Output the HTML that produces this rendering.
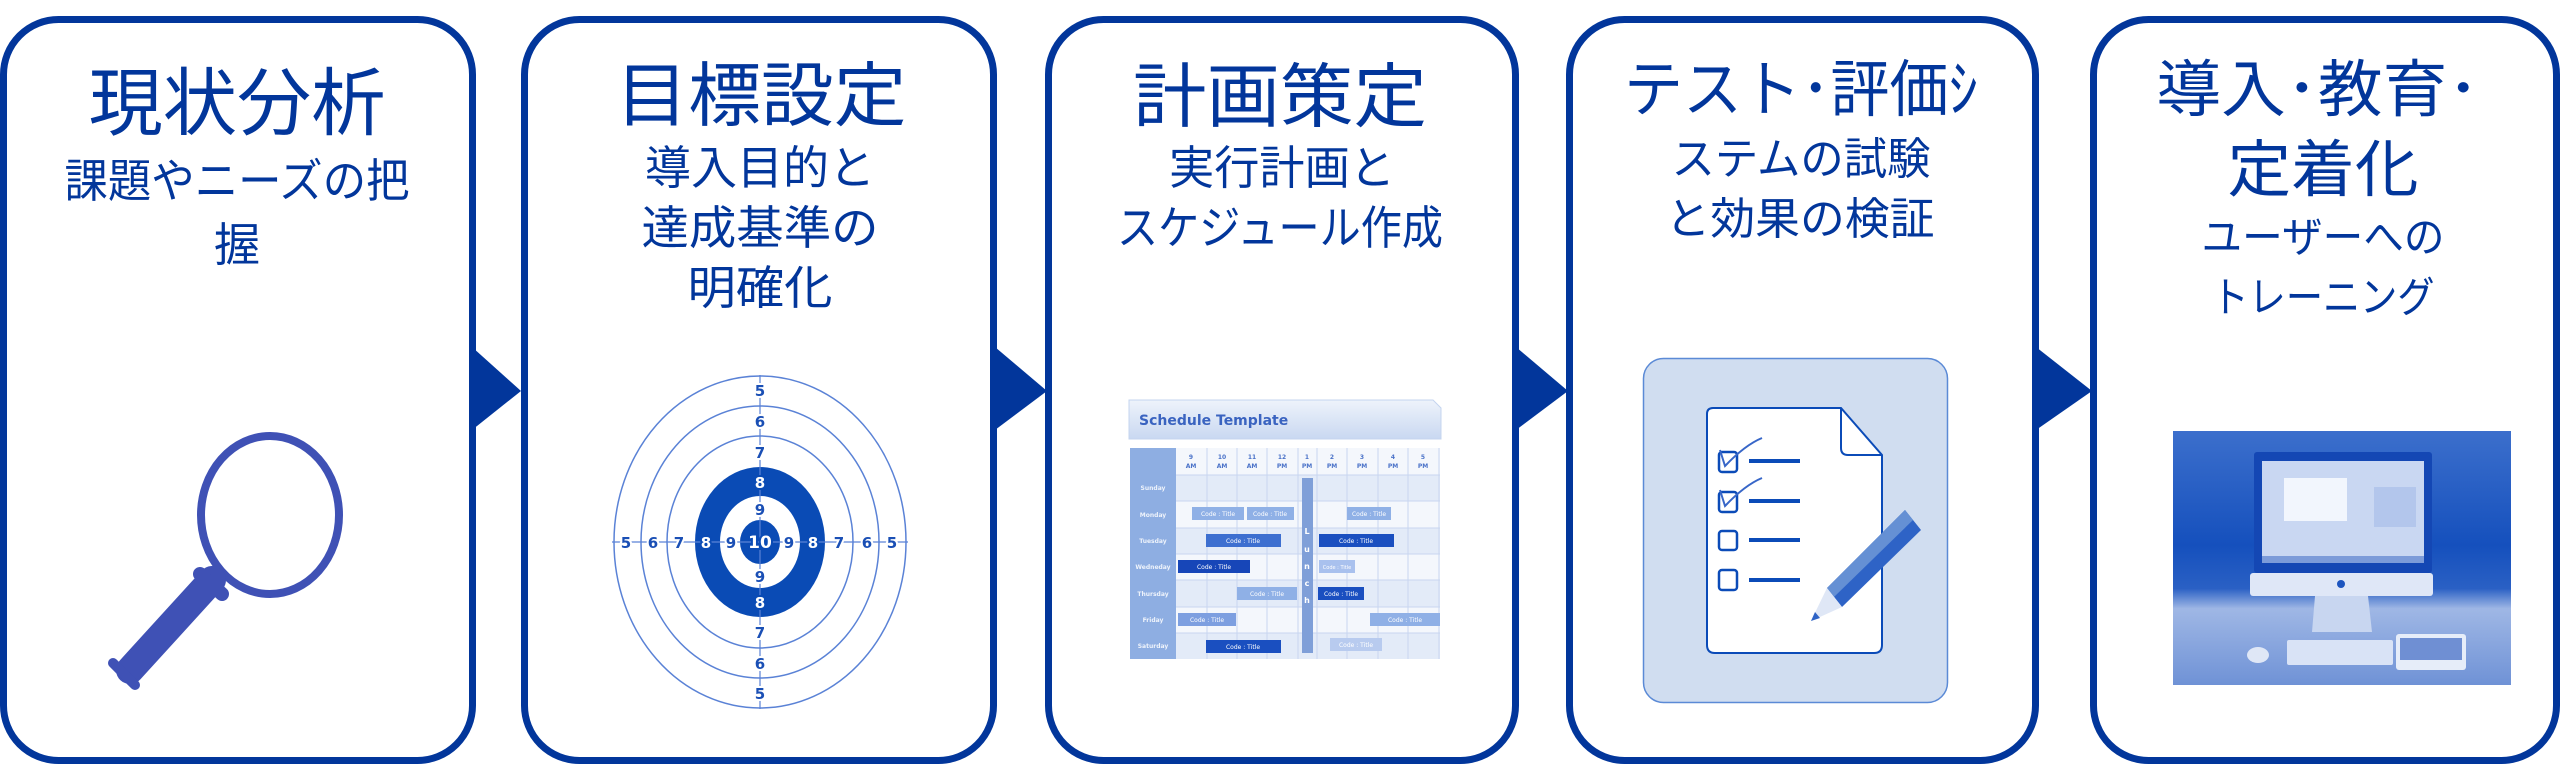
<!DOCTYPE html>
<html><head><meta charset="utf-8"><style>
html,body{margin:0;padding:0;background:#fff;}
svg{display:block;}
</style></head><body>
<svg width="2560" height="764" viewBox="0 0 2560 764" xmlns="http://www.w3.org/2000/svg">
<defs>
<linearGradient id="hdr" x1="0" y1="0" x2="0" y2="1"><stop offset="0" stop-color="#eef3fb"/><stop offset="1" stop-color="#c9d8f1"/></linearGradient>
<linearGradient id="bg5" x1="0" y1="0" x2="0" y2="1"><stop offset="0" stop-color="#3c6fcc"/><stop offset="0.45" stop-color="#1550bd"/><stop offset="0.62" stop-color="#2a60c4"/><stop offset="0.7" stop-color="#9fb7e5"/><stop offset="1" stop-color="#6f92d6"/></linearGradient>
</defs>
<g fill="none" stroke="#02369b" stroke-width="7">
<rect x="3.5" y="19.5" width="469" height="741" rx="55"/>
<rect x="524.5" y="19.5" width="469" height="741" rx="55"/>
<rect x="1048.5" y="19.5" width="467" height="741" rx="55"/>
<rect x="1569.5" y="19.5" width="466" height="741" rx="55"/>
<rect x="2093.5" y="19.5" width="463" height="741" rx="55"/>
</g>
<g fill="#02369b">
<polygon points="472,347 521,391 521,391 472,430"/>
<polygon points="995,347 1047,391 995,430"/>
<polygon points="1516,347 1568,391 1516,430"/>
<polygon points="2036,347 2092,391 2036,430"/>
</g>
<g fill="#02369b" font-family="'Liberation Sans','Noto Sans CJK JP',sans-serif" text-anchor="middle">
<text x="237" y="129" font-size="74" textLength="297" lengthAdjust="spacingAndGlyphs">現状分析</text>
<text x="237" y="197" font-size="46" textLength="345" lengthAdjust="spacingAndGlyphs">課題やニーズの把</text>
<text x="237" y="261" font-size="46">握</text>
<text x="761" y="120" font-size="70" textLength="291" lengthAdjust="spacingAndGlyphs">目標設定</text>
<text x="760" y="184" font-size="46" textLength="230" lengthAdjust="spacingAndGlyphs">導入目的と</text>
<text x="760" y="244" font-size="46" textLength="237" lengthAdjust="spacingAndGlyphs">達成基準の</text>
<text x="760" y="304" font-size="46" textLength="145" lengthAdjust="spacingAndGlyphs">明確化</text>
<text x="1280" y="121" font-size="70" textLength="294" lengthAdjust="spacingAndGlyphs">計画策定</text>
<text x="1282" y="184" font-size="46" textLength="226" lengthAdjust="spacingAndGlyphs">実行計画と</text>
<text x="1280" y="244" font-size="46" textLength="326" lengthAdjust="spacingAndGlyphs">スケジュール作成</text>
<text x="1801" y="111" font-size="62" textLength="354" lengthAdjust="spacingAndGlyphs">テスト･評価ｼ</text>
<text x="1801" y="174" font-size="44" textLength="259" lengthAdjust="spacingAndGlyphs">ステムの試験</text>
<text x="1800" y="234" font-size="44" textLength="269" lengthAdjust="spacingAndGlyphs">と効果の検証</text>
<text x="2318" y="111" font-size="62" textLength="323" lengthAdjust="spacingAndGlyphs">導入･教育･</text>
<text x="2323" y="191" font-size="62" textLength="191" lengthAdjust="spacingAndGlyphs">定着化</text>
<text x="2323" y="252" font-size="42" textLength="243" lengthAdjust="spacingAndGlyphs">ユーザーへの</text>
<text x="2323" y="312" font-size="42" textLength="223" lengthAdjust="spacingAndGlyphs">トレーニング</text>
</g>

<!-- magnifier -->
<g fill="#3f51b5">
<ellipse cx="270" cy="515" rx="69" ry="79" fill="none" stroke="#3f51b5" stroke-width="8"/>
<line x1="212" y1="580" x2="130" y2="670" stroke="#3f51b5" stroke-width="28" stroke-linecap="round"/>
<line x1="200" y1="574" x2="222" y2="594" stroke="#3f51b5" stroke-width="14" stroke-linecap="round"/>
<line x1="113" y1="663" x2="135" y2="685" stroke="#3f51b5" stroke-width="10" stroke-linecap="round"/>
</g>

<!-- target -->
<g fill="none" stroke="#5a82d6" stroke-width="1.5">
<ellipse cx="760" cy="542" rx="146" ry="166"/>
<ellipse cx="760" cy="542" rx="119" ry="136"/>
<ellipse cx="760" cy="542" rx="93" ry="106"/>
</g>
<ellipse cx="760" cy="542" rx="65" ry="75" fill="#0a4bb5"/>
<ellipse cx="760" cy="542" rx="40" ry="46" fill="#fff"/>
<ellipse cx="760" cy="542" rx="20" ry="22" fill="#0a4bb5"/>
<g stroke="#5a82d6" stroke-width="1.2"><line x1="612" y1="542" x2="908" y2="542"/><line x1="760" y1="375" x2="760" y2="709"/></g>
<g font-family="'DejaVu Sans','Liberation Sans',sans-serif" font-weight="bold" font-size="15" text-anchor="middle" style="paint-order:stroke" stroke-width="4">
<g fill="#1a4fb5" stroke="#fff">
<text x="626" y="548">5</text><text x="653" y="548">6</text><text x="679" y="548">7</text>
<text x="839" y="548">7</text><text x="867" y="548">6</text><text x="892" y="548">5</text>
<text x="731" y="548">9</text><text x="789" y="548">9</text>
<text x="760" y="396">5</text><text x="760" y="427">6</text><text x="760" y="458">7</text>
<text x="760" y="515">9</text><text x="760" y="582">9</text>
<text x="760" y="638">7</text><text x="760" y="669">6</text><text x="760" y="699">5</text>
</g>
<g fill="#fff" stroke="#0a4bb5">
<text x="706" y="548">8</text><text x="813" y="548">8</text>
<text x="760" y="488">8</text><text x="760" y="608">8</text>
<text x="760" y="548" font-size="17">10</text>
</g>
</g>

<!-- schedule -->
<path d="M1129,400 H1433 L1441,408 V439 H1129 Z" fill="url(#hdr)" stroke="#c4d4ef"/>
<text x="1139" y="425" font-family="'DejaVu Sans',sans-serif" font-weight="bold" font-size="14" fill="#3a63c0">Schedule Template</text>
<rect x="1130" y="448" width="310" height="211" fill="#f4f7fc"/>
<g fill="#e3ebf8"><rect x="1176" y="475" width="264" height="26"/><rect x="1176" y="528" width="264" height="26"/><rect x="1176" y="580" width="264" height="27"/><rect x="1176" y="633" width="264" height="26"/></g>
<rect x="1130" y="448" width="46" height="211" fill="#8eaee2"/>
<g stroke="#c8d6f0" stroke-width="1">
<line x1="1207" y1="448" x2="1207" y2="659"/><line x1="1237" y1="448" x2="1237" y2="659"/><line x1="1267" y1="448" x2="1267" y2="659"/><line x1="1298" y1="448" x2="1298" y2="659"/><line x1="1317" y1="448" x2="1317" y2="659"/><line x1="1347" y1="448" x2="1347" y2="659"/><line x1="1378" y1="448" x2="1378" y2="659"/><line x1="1408" y1="448" x2="1408" y2="659"/><line x1="1439" y1="448" x2="1439" y2="659"/>
<line x1="1176" y1="475" x2="1440" y2="475"/><line x1="1176" y1="501" x2="1440" y2="501"/><line x1="1176" y1="528" x2="1440" y2="528"/><line x1="1176" y1="554" x2="1440" y2="554"/><line x1="1176" y1="580" x2="1440" y2="580"/><line x1="1176" y1="607" x2="1440" y2="607"/><line x1="1176" y1="633" x2="1440" y2="633"/>
</g>
<g font-family="'DejaVu Sans',sans-serif" font-size="6" font-weight="bold" fill="#4a72c8" text-anchor="middle">
<text x="1191" y="459">9</text><text x="1191" y="468">AM</text>
<text x="1222" y="459">10</text><text x="1222" y="468">AM</text>
<text x="1252" y="459">11</text><text x="1252" y="468">AM</text>
<text x="1282" y="459">12</text><text x="1282" y="468">PM</text>
<text x="1307" y="459">1</text><text x="1307" y="468">PM</text>
<text x="1332" y="459">2</text><text x="1332" y="468">PM</text>
<text x="1362" y="459">3</text><text x="1362" y="468">PM</text>
<text x="1393" y="459">4</text><text x="1393" y="468">PM</text>
<text x="1423" y="459">5</text><text x="1423" y="468">PM</text>
</g>
<g font-family="'DejaVu Sans',sans-serif" font-size="6" font-weight="bold" fill="#eef3fb" text-anchor="middle">
<text x="1153" y="490">Sunday</text><text x="1153" y="517">Monday</text><text x="1153" y="543">Tuesday</text><text x="1153" y="569">Wedneday</text><text x="1153" y="596">Thursday</text><text x="1153" y="622">Friday</text><text x="1153" y="648">Saturday</text>
</g>
<rect x="1302" y="478" width="11" height="175" fill="#7f9fd8"/>
<g font-family="'DejaVu Sans',sans-serif" font-size="8" font-weight="bold" fill="#fff" text-anchor="middle">
<text x="1307" y="534">L</text><text x="1307" y="552">u</text><text x="1307" y="569">n</text><text x="1307" y="586">c</text><text x="1307" y="603">h</text>
</g>
<g font-family="'DejaVu Sans',sans-serif" font-size="6" fill="#fff" text-anchor="middle">
<rect x="1192" y="507" width="52" height="13" fill="#8fb0e6"/><text x="1218" y="516">Code : Title</text>
<rect x="1247" y="507" width="47" height="13" fill="#8fb0e6"/><text x="1270" y="516">Code : Title</text>
<rect x="1347" y="507" width="44" height="13" fill="#8fb0e6"/><text x="1369" y="516">Code : Title</text>
<rect x="1206" y="534" width="75" height="13" fill="#3d6fd0"/><text x="1243" y="543">Code : Title</text>
<rect x="1319" y="534" width="75" height="13" fill="#1a4fc0"/><text x="1356" y="543">Code : Title</text>
<rect x="1178" y="560" width="72" height="13" fill="#1746b8"/><text x="1214" y="569">Code : Title</text>
<rect x="1319" y="560" width="36" height="13" fill="#a9c1ee"/><text x="1337" y="569" font-size="5">Code : Title</text>
<rect x="1237" y="587" width="60" height="13" fill="#8fb0e6"/><text x="1267" y="596">Code : Title</text>
<rect x="1318" y="587" width="46" height="13" fill="#1a4fc0"/><text x="1341" y="596">Code : Title</text>
<rect x="1178" y="613" width="58" height="13" fill="#7d9fe0"/><text x="1207" y="622">Code : Title</text>
<rect x="1370" y="613" width="70" height="13" fill="#8fb0e6"/><text x="1405" y="622">Code : Title</text>
<rect x="1206" y="640" width="75" height="13" fill="#1a4fc0"/><text x="1243" y="649">Code : Title</text>
<rect x="1330" y="638" width="52" height="13" fill="#b8cbef"/><text x="1356" y="647">Code : Title</text>
</g>

<!-- checklist -->
<rect x="1643.5" y="358.5" width="304" height="344" rx="20" fill="#d0ddf0" stroke="#5b8ad6" stroke-width="1.5"/>
<path d="M1713,408 H1841 L1882,455 V645 Q1882,653 1874,653 H1715 Q1707,653 1707,645 V414 Q1707,408 1713,408 Z" fill="#fff" stroke="#0b4bb8" stroke-width="2"/>
<path d="M1841,408 V448 Q1841,455 1848,455 H1882" fill="none" stroke="#0b4bb8" stroke-width="2"/>
<g fill="none" stroke="#0b4bb8" stroke-width="2.5">
<rect x="1719" y="452" width="18" height="20" rx="3"/><rect x="1719" y="492" width="18" height="20" rx="3"/><rect x="1719" y="531" width="18" height="19" rx="3"/><rect x="1719" y="570" width="18" height="20" rx="3"/>
</g>
<g stroke="#0b4bb8" stroke-width="4"><line x1="1749" y1="461" x2="1800" y2="461"/><line x1="1749" y1="501" x2="1800" y2="501"/><line x1="1749" y1="540" x2="1800" y2="540"/><line x1="1749" y1="580" x2="1800" y2="580"/></g>
<g fill="none" stroke="#3766c8" stroke-width="2"><path d="M1720,450 L1725,466 Q1745,445 1762,438"/><path d="M1720,490 L1725,506 Q1745,485 1762,478"/></g>
<polygon points="1827,588 1905,510 1921,530 1842,607" fill="#2e63c6"/>
<polygon points="1827,588 1905,510 1913,520 1834,597" fill="#6590d4"/>
<polygon points="1827,588 1842,607 1811,621" fill="#dfe7f6"/>
<polygon points="1815,612 1820,618 1811,621" fill="#2e63c6"/>

<!-- computer photo -->
<rect x="2173" y="431" width="338" height="254" fill="url(#bg5)"/>
<rect x="2254" y="452" width="178" height="121" rx="3" fill="#1447b4"/>
<rect x="2262" y="461" width="162" height="102" fill="#c9d7f2"/>
<rect x="2284" y="478" width="63" height="43" fill="#f2f6fd"/>
<rect x="2374" y="487" width="42" height="40" fill="#b3c6ec"/>
<rect x="2262" y="556" width="162" height="7" fill="#7c9bd9"/>
<rect x="2250" y="573" width="183" height="23" rx="3" fill="#dfe7f7"/>
<circle cx="2341" cy="584" r="4" fill="#1d55bf"/>
<polygon points="2315,596 2368,596 2372,632 2312,632" fill="#c8d6f0"/>
<ellipse cx="2258" cy="655" rx="11" ry="8" fill="#dfe7f6"/>
<rect x="2287" y="640" width="106" height="25" rx="2" fill="#d9e3f6"/>
<rect x="2396" y="634" width="70" height="36" rx="3" fill="#e6edf9"/>
<rect x="2400" y="638" width="62" height="22" fill="#6f8fd3"/>
</svg>
</body></html>
